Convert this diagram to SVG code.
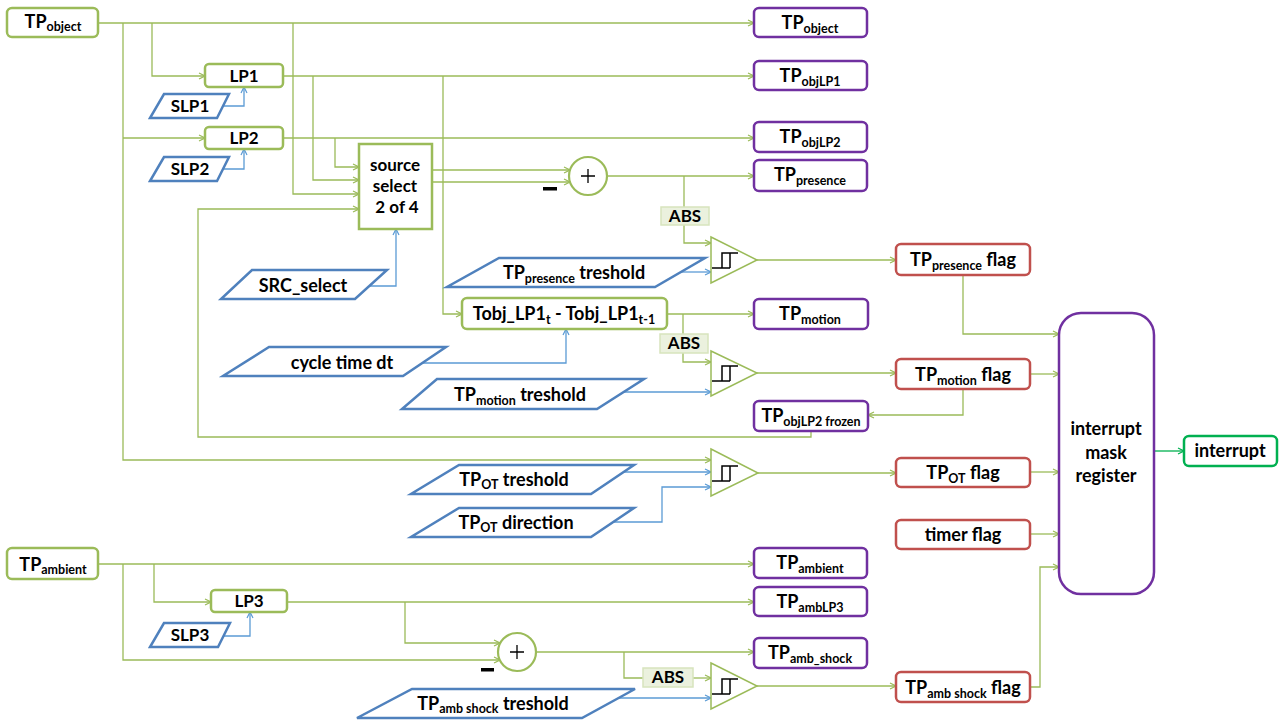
<svg xmlns="http://www.w3.org/2000/svg" width="1281" height="720" viewBox="0 0 1281 720">
<style>
.g{fill:none;stroke:#9BBB59;stroke-width:1.3}
.b{fill:none;stroke:#5B9BD5;stroke-width:1.3}
.gb{fill:none;stroke:#00B050;stroke-width:1.3}
.gbox{fill:#fff;stroke:#9BBB59;stroke-width:2.5}
.pbox{fill:#fff;stroke:#7030A0;stroke-width:2.5}
.rbox{fill:#fff;stroke:#C0504D;stroke-width:2.5}
.ibox{fill:#fff;stroke:#00B050;stroke-width:2.5}
.para{fill:#fff;stroke:#4F81BD;stroke-width:2.5}
.abs{fill:#EBF1DE;stroke:#D7E4BD;stroke-width:1.5}
.cmp{fill:#fff;stroke:#9BBB59;stroke-width:1.5}
.sum{fill:#fff;stroke:#9BBB59;stroke-width:2.2}
.hys{fill:none;stroke:#000;stroke-width:1.5}
.pl{fill:none;stroke:#000;stroke-width:1.3}
text{font-family:Lato,"Liberation Sans",sans-serif;font-weight:bold;fill:#000;text-anchor:middle}
.t{font-size:18px}
.m{font-size:17px}
.s{font-size:12.5px}
</style>
<defs>
<marker id="ag" markerWidth="8" markerHeight="8" refX="7" refY="4" orient="auto" markerUnits="userSpaceOnUse"><path d="M1,1 L7,4 L1,7" fill="none" stroke="#9BBB59" stroke-width="1.2"/></marker>
<marker id="ab" markerWidth="8" markerHeight="8" refX="7" refY="4" orient="auto" markerUnits="userSpaceOnUse"><path d="M1,1 L7,4 L1,7" fill="none" stroke="#5B9BD5" stroke-width="1.2"/></marker>
<marker id="ai" markerWidth="8" markerHeight="8" refX="7" refY="4" orient="auto" markerUnits="userSpaceOnUse"><path d="M1,1 L7,4 L1,7" fill="none" stroke="#00B050" stroke-width="1.2"/></marker>
</defs>

<g id="connectors">
<g class="g" marker-end="url(#ag)">
<path d="M98,23 H754"/>
<path d="M123,23 V460 H711"/>
<path d="M123,138 H205"/>
<path d="M152,23 V76 H205"/>
<path d="M293,23 V194 H359"/>
<path d="M283,76 H754"/>
<path d="M313,76 V180 H359"/>
<path d="M443,76 V314 H462"/>
<path d="M283,138 H754"/>
<path d="M335,138 V167 H359"/>
<path d="M811,431 V437 H198 V209 H359"/>
<path d="M432,170 H570"/>
<path d="M432,182 H570"/>
<path d="M607,176 H754"/>
<path d="M684,225 V243 H711"/>
<path d="M757,260 H896"/>
<path d="M963,275 V334 H1059"/>
<path d="M667,314 H754"/>
<path d="M683,353 V362 H711"/>
<path d="M757,373 H896"/>
<path d="M1030,374 H1059"/>
<path d="M963,389 V415 H868"/>
<path d="M758,473 H896"/>
<path d="M1030,472 H1059"/>
<path d="M1030,534 H1059"/>
<path d="M1030,687 H1040 V567 H1059"/>
<path d="M98,564 H754"/>
<path d="M123,564 V660 H500"/>
<path d="M154,564 V602 H211"/>
<path d="M287,602 H754"/>
<path d="M405,602 V643 H500"/>
<path d="M536,652 H754"/>
<path d="M693,678 H711"/>
<path d="M757,686 H896"/>
</g>
<path class="g" d="M684,176 V207"/>
<path class="g" d="M683,314 V334"/>
<path class="g" d="M624,652 V678 H643"/>
<g class="b" marker-end="url(#ab)">
<path d="M223,106 H244 V87"/>
<path d="M223,169 H244 V149"/>
<path d="M224,636 H250 V612"/>
<path d="M369,286 H396 V229"/>
<path d="M422,363 H566 V329"/>
<path d="M681,272 H711"/>
<path d="M624,392 H711"/>
<path d="M624,472 H711"/>
<path d="M613,522 H662 V487 H711"/>
<path d="M619,698 H711"/>
</g>
<path class="gb" marker-end="url(#ai)" d="M1154,451 H1184"/>
</g>

<g id="in-tpobject"><rect class="gbox" x="7" y="8" width="91" height="29" rx="5"/><text x="53" y="28" class="t">TP<tspan class="s" dy="3">object</tspan></text></g>
<g id="in-tpambient"><rect class="gbox" x="7" y="548" width="91" height="31" rx="5"/><text x="53" y="571" class="t">TP<tspan class="s" dy="3">ambient</tspan></text></g>

<g id="lp1"><rect class="gbox" x="205" y="64" width="78" height="23" rx="4"/><text x="244" y="82" class="m">LP1</text></g>
<g id="lp2"><rect class="gbox" x="205" y="127" width="78" height="22" rx="4"/><text x="244" y="144" class="m">LP2</text></g>
<g id="lp3"><rect class="gbox" x="211" y="590" width="76" height="22" rx="4"/><text x="249" y="607" class="m">LP3</text></g>

<g id="slp1"><polygon class="para" points="164,94 229,94 217,118 150,118"/><text x="190" y="112" class="m">SLP1</text></g>
<g id="slp2"><polygon class="para" points="164,157 229,157 217,181 150,181"/><text x="190" y="175" class="m">SLP2</text></g>
<g id="slp3"><polygon class="para" points="164,623 230,623 218,647 150,647"/><text x="190" y="641" class="m">SLP3</text></g>

<g id="source-select"><rect class="gbox" x="359" y="144" width="73" height="85"/><text x="395" y="171" class="m">source</text><text x="395" y="192" class="m">select</text><text x="397" y="213" class="m">2 of 4</text></g>

<g id="src-select"><polygon class="para" points="252,270 387,270 355,299 221,299"/><text x="303" y="292" class="t">SRC_select</text></g>
<g id="cycle-time"><polygon class="para" points="269,347 446,347 403,376 223,376"/><text x="342" y="369" class="t">cycle time dt</text></g>
<g id="tp-presence-th"><polygon class="para" points="499,258 705,258 655,287 447,287"/><text x="574" y="279" class="t">TP<tspan class="s" dy="4">presence</tspan><tspan dy="-4"> treshold</tspan></text></g>
<g id="tp-motion-th"><polygon class="para" points="437,379 644,379 597,409 402,409"/><text x="520" y="401" class="t">TP<tspan class="s" dy="4">motion</tspan><tspan dy="-4"> treshold</tspan></text></g>
<g id="tp-ot-th"><polygon class="para" points="459,465 634,465 591,494 411,494"/><text x="514" y="486" class="t">TP<tspan class="s" dy="3">OT</tspan><tspan dy="-3"> treshold</tspan></text></g>
<g id="tp-ot-dir"><polygon class="para" points="459,508 634,508 591,537 411,537"/><text x="516" y="529" class="t">TP<tspan class="s" dy="3">OT</tspan><tspan dy="-3"> direction</tspan></text></g>
<g id="tp-amb-shock-th"><polygon class="para" points="412,689 635,689 582,718 357,718"/><text x="493" y="710" class="t">TP<tspan class="s" dy="3">amb shock</tspan><tspan dy="-3"> treshold</tspan></text></g>

<g id="tobj"><rect class="gbox" x="462" y="298" width="205" height="31" rx="5"/><text x="564" y="320" class="t">Tobj_LP1<tspan class="s" dy="4">t</tspan><tspan dy="-4"> - Tobj_LP1</tspan><tspan class="s" dy="4">t-1</tspan></text></g>

<g id="sum1"><circle class="sum" cx="588" cy="176" r="19"/><path class="pl" d="M581,176 H595 M588,169 V183"/><rect x="543" y="187" width="14" height="3.5" fill="#000"/></g>
<g id="sum2"><circle class="sum" cx="517" cy="652" r="19"/><path class="pl" d="M510,652 H524 M517,645 V659"/><rect x="481" y="668" width="13" height="3.5" fill="#000"/></g>

<g id="abs1"><rect class="abs" x="661" y="207" width="48" height="18"/><text x="685" y="222" class="m">ABS</text></g>
<g id="abs2"><rect class="abs" x="660" y="334" width="48" height="19"/><text x="684" y="349" class="m">ABS</text></g>
<g id="abs3"><rect class="abs" x="643" y="668" width="50" height="19"/><text x="668" y="683" class="m">ABS</text></g>

<g id="cmp1"><polygon class="cmp" points="711,237 757,260 711,283"/><path class="hys" d="M712,268 H730 M722,268 V253 H738 M730,253 V268"/></g>
<g id="cmp2"><polygon class="cmp" points="711,351 757,373 711,396"/><path class="hys" d="M712,381 H730 M722,381 V366 H738 M730,366 V381"/></g>
<g id="cmp3"><polygon class="cmp" points="711,449 758,473 711,496"/><path class="hys" d="M712,481 H730 M722,481 V466 H738 M730,466 V481"/></g>
<g id="cmp4"><polygon class="cmp" points="711,663 757,686 711,709"/><path class="hys" d="M712,694 H730 M722,694 V679 H738 M730,679 V694"/></g>

<g id="out-tpobject"><rect class="pbox" x="754" y="8" width="113" height="29" rx="5"/><text x="810" y="29" class="t">TP<tspan class="s" dy="4">object</tspan></text></g>
<g id="out-tpobjlp1"><rect class="pbox" x="754" y="61" width="113" height="29" rx="5"/><text x="810" y="82" class="t">TP<tspan class="s" dy="4">objLP1</tspan></text></g>
<g id="out-tpobjlp2"><rect class="pbox" x="754" y="122" width="113" height="30" rx="5"/><text x="810" y="143" class="t">TP<tspan class="s" dy="4">objLP2</tspan></text></g>
<g id="out-tppresence"><rect class="pbox" x="754" y="160" width="113" height="31" rx="5"/><text x="810" y="181" class="t">TP<tspan class="s" dy="4">presence</tspan></text></g>
<g id="out-tpmotion"><rect class="pbox" x="754" y="299" width="114" height="30" rx="5"/><text x="810" y="320" class="t">TP<tspan class="s" dy="4">motion</tspan></text></g>
<g id="out-frozen"><rect class="pbox" x="754" y="401" width="114" height="30" rx="5"/><text x="811" y="422" class="t">TP<tspan class="s" dy="4">objLP2 frozen</tspan></text></g>
<g id="out-tpambient"><rect class="pbox" x="754" y="548" width="113" height="30" rx="5"/><text x="810" y="569" class="t">TP<tspan class="s" dy="4">ambient</tspan></text></g>
<g id="out-tpamblp3"><rect class="pbox" x="754" y="587" width="113" height="29" rx="5"/><text x="810" y="608" class="t">TP<tspan class="s" dy="4">ambLP3</tspan></text></g>
<g id="out-tpambshock"><rect class="pbox" x="754" y="638" width="113" height="30" rx="5"/><text x="810" y="659" class="t">TP<tspan class="s" dy="4">amb_shock</tspan></text></g>

<g id="flag-presence"><rect class="rbox" x="896" y="244" width="134" height="31" rx="5"/><text x="963" y="266" class="t">TP<tspan class="s" dy="4">presence</tspan><tspan dy="-4"> flag</tspan></text></g>
<g id="flag-motion"><rect class="rbox" x="896" y="359" width="134" height="30" rx="5"/><text x="963" y="381" class="t">TP<tspan class="s" dy="4">motion</tspan><tspan dy="-4"> flag</tspan></text></g>
<g id="flag-ot"><rect class="rbox" x="896" y="458" width="134" height="29" rx="5"/><text x="963" y="479" class="t">TP<tspan class="s" dy="4">OT</tspan><tspan dy="-4"> flag</tspan></text></g>
<g id="flag-timer"><rect class="rbox" x="896" y="520" width="134" height="29" rx="5"/><text x="963" y="541" class="t">timer flag</text></g>
<g id="flag-ambshock"><rect class="rbox" x="896" y="672" width="134" height="30" rx="5"/><text x="963" y="694" class="t">TP<tspan class="s" dy="4">amb  shock</tspan><tspan dy="-4"> flag</tspan></text></g>

<g id="register"><rect class="pbox" x="1059" y="313" width="95" height="281" rx="22"/><text x="1106" y="435" class="t">interrupt</text><text x="1106" y="459" class="t">mask</text><text x="1106" y="482" class="t">register</text></g>
<g id="interrupt"><rect class="ibox" x="1184" y="436" width="93" height="30" rx="5"/><text x="1230" y="457" class="t">interrupt</text></g>
</svg>
